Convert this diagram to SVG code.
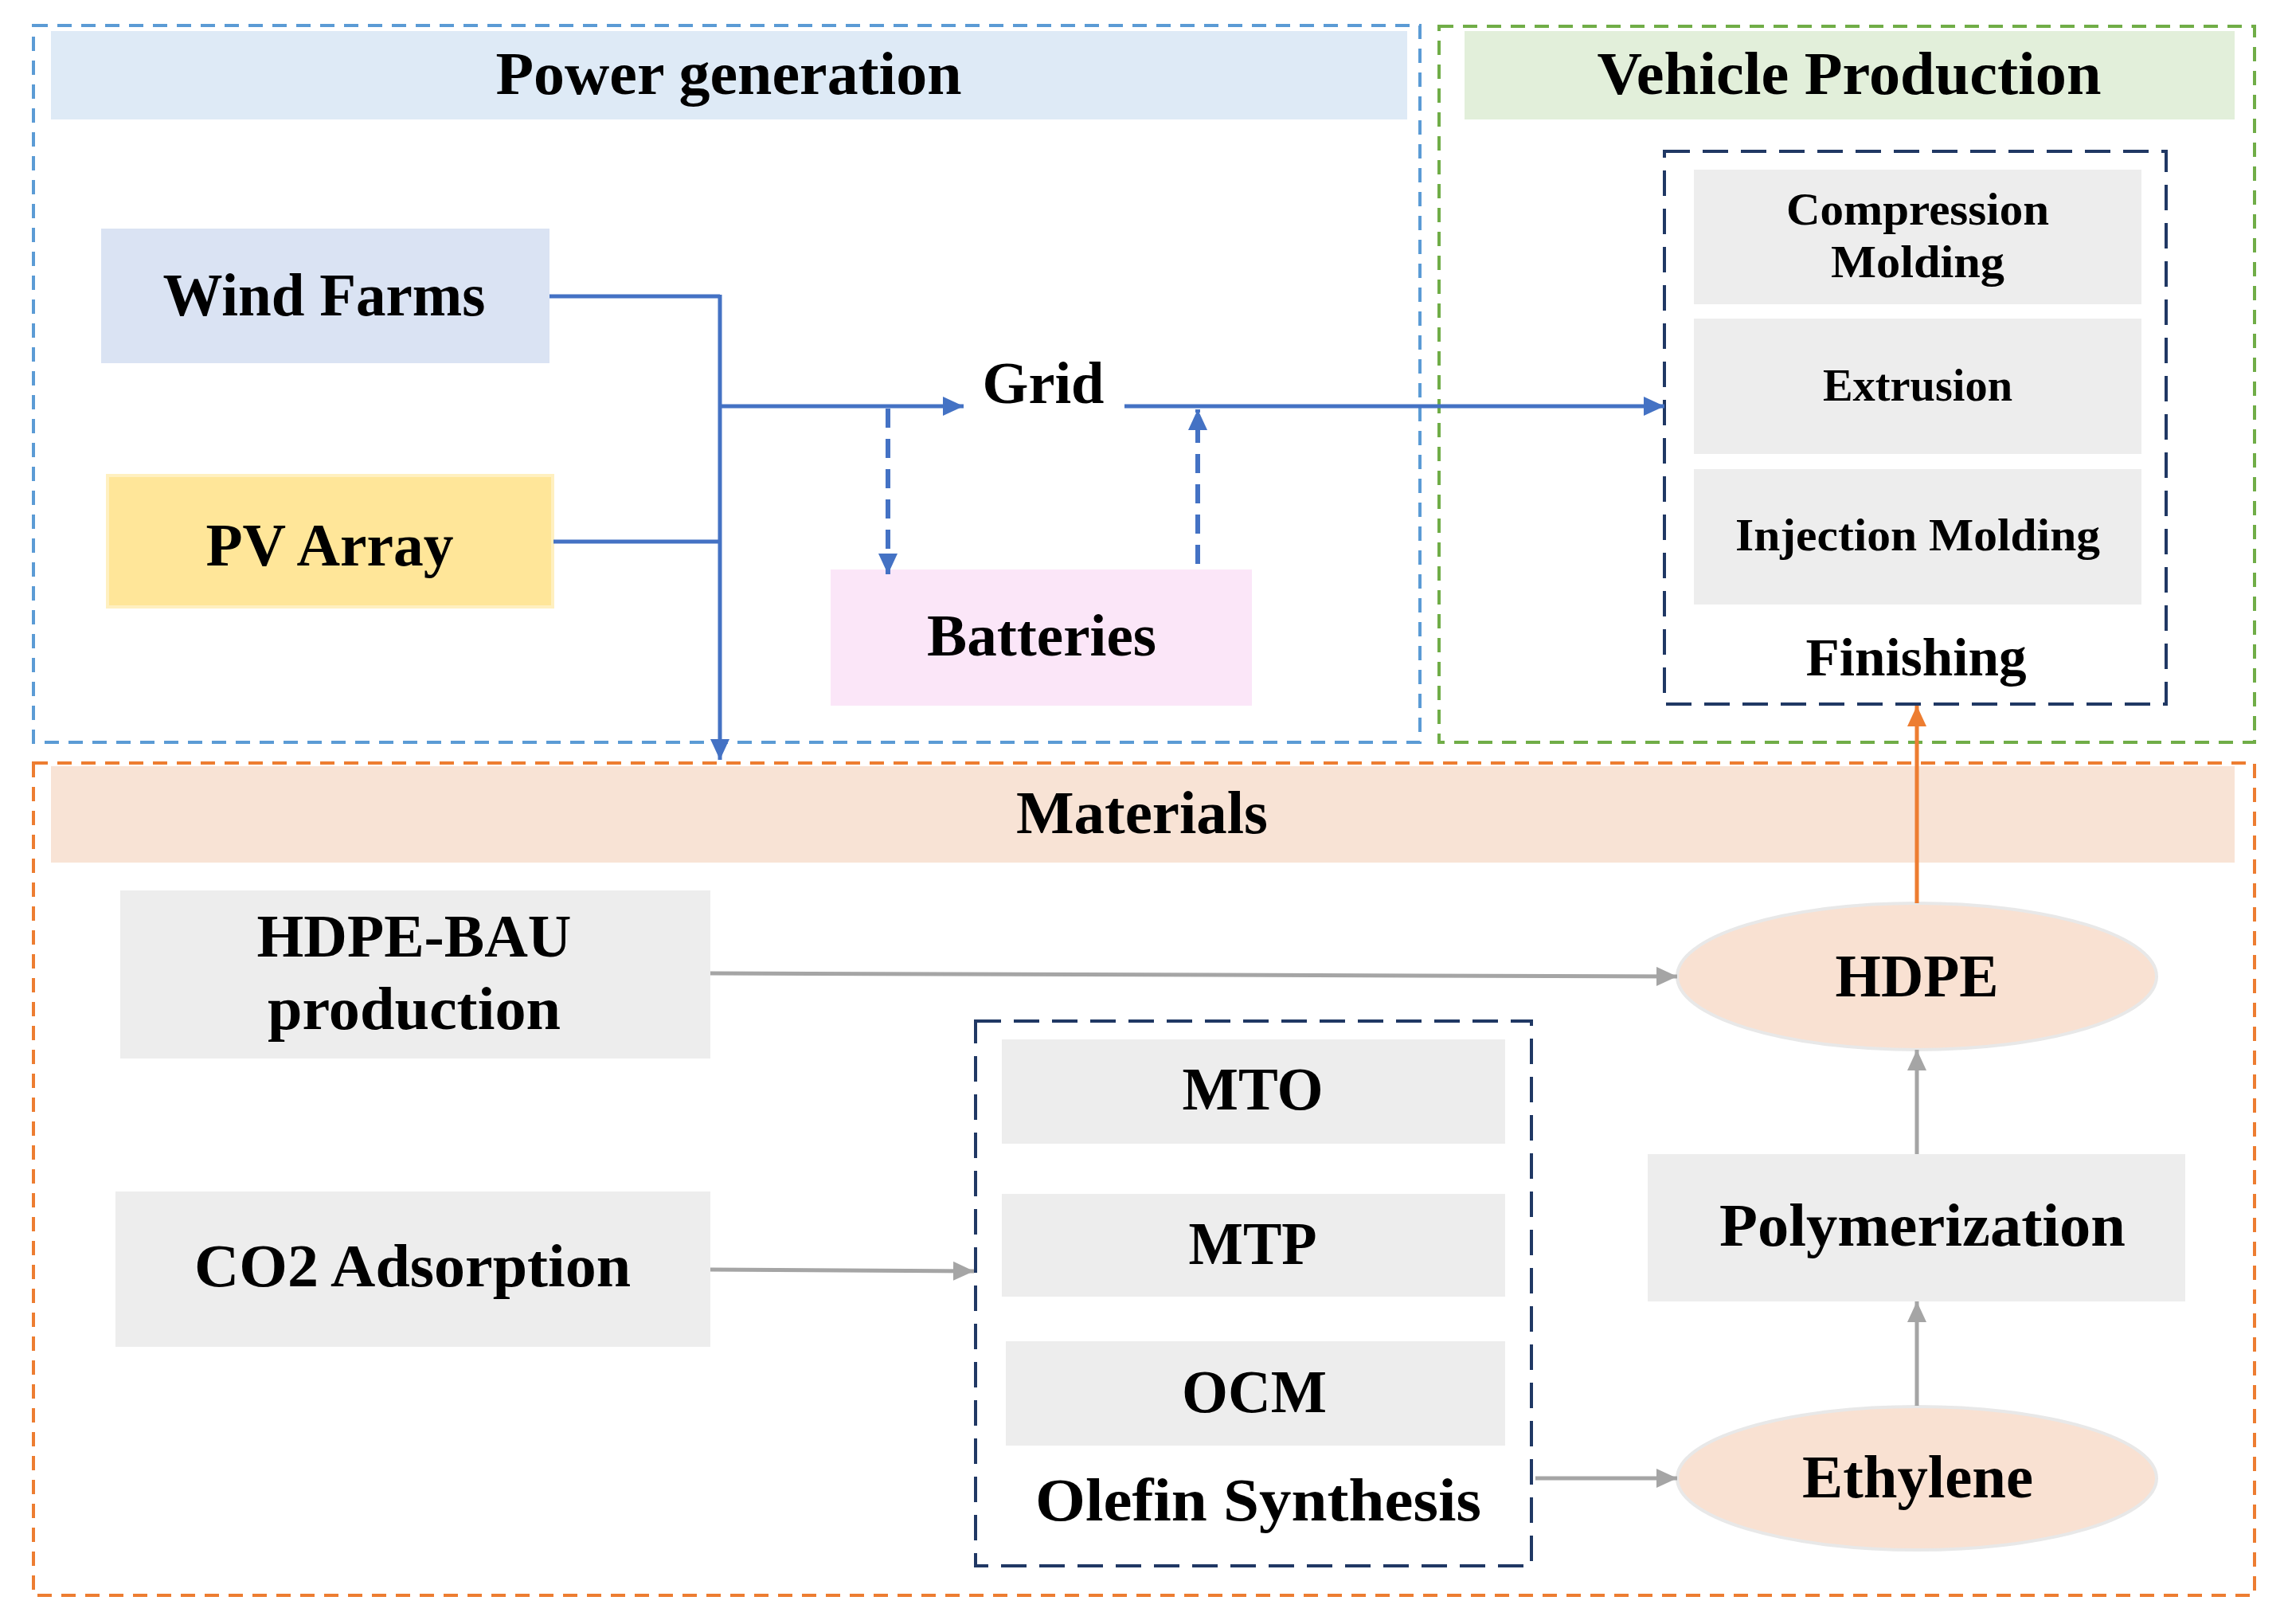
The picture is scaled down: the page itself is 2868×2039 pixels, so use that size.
<svg xmlns="http://www.w3.org/2000/svg" width="2868" height="2039" viewBox="0 0 2868 2039">
<style>
text{font-family:"Liberation Serif","Times New Roman",serif;font-weight:bold;fill:#000;text-anchor:middle}
.t76{font-size:77px}
.t72{font-size:73px}
.t57{font-size:58px}
.t66{font-size:67px}
.gbox{fill:#EDEDED}
.frame{fill:none;stroke-width:4;stroke-dasharray:18 12}
.inner{fill:none;stroke:#203864;stroke-width:4;stroke-dasharray:32 16}
.blue{fill:none;stroke:#4472C4;stroke-width:5}
.bdash{fill:none;stroke:#4472C4;stroke-width:6;stroke-dasharray:24 14}
.gray{fill:none;stroke:#A5A5A5;stroke-width:5}
.orange{fill:none;stroke:#ED7D31;stroke-width:5}
.ell{fill:#F9E1D2;stroke:#E8E8E8;stroke-width:4}
</style>
<defs>
<marker id="ab" markerUnits="userSpaceOnUse" markerWidth="26" markerHeight="24" refX="26" refY="12" orient="auto"><path d="M0,0 L26,12 L0,24 z" fill="#4472C4"/></marker>
<marker id="ag" markerUnits="userSpaceOnUse" markerWidth="26" markerHeight="24" refX="26" refY="12" orient="auto"><path d="M0,0 L26,12 L0,24 z" fill="#A5A5A5"/></marker>
<marker id="ao" markerUnits="userSpaceOnUse" markerWidth="26" markerHeight="24" refX="26" refY="12" orient="auto"><path d="M0,0 L26,12 L0,24 z" fill="#ED7D31"/></marker>
</defs>
<rect width="2868" height="2039" fill="#fff"/>

<g id="power-generation">
<rect x="42" y="32" width="1741" height="900" class="frame" stroke="#5B9BD5"/>
<rect x="64" y="39" width="1703" height="111" fill="#DEEAF6"/>
<text x="915" y="118" class="t76" textLength="585" lengthAdjust="spacingAndGlyphs">Power generation</text>
</g>

<g id="vehicle-production">
<rect x="1807" y="33" width="1024" height="899" class="frame" stroke="#70AD47"/>
<rect x="1839" y="39" width="967" height="111" fill="#E2EFDA"/>
<text x="2322" y="118" class="t76" textLength="633" lengthAdjust="spacingAndGlyphs">Vehicle Production</text>
</g>

<g id="materials">
<rect x="42" y="958" width="2789" height="1045" class="frame" stroke="#ED7D31"/>
<rect x="64" y="962" width="2742" height="121" fill="#F8E3D5"/>
<text x="1434" y="1046" class="t76" textLength="316" lengthAdjust="spacingAndGlyphs">Materials</text>
</g>

<g id="wind-farms">
<rect x="127" y="287" width="563" height="169" fill="#DAE3F3"/>
<text x="407" y="396" class="t76" textLength="405" lengthAdjust="spacingAndGlyphs">Wind Farms</text>
</g>

<g id="pv-array">
<rect x="135" y="597" width="559" height="165" fill="#FFE699" stroke="#FFF0C0" stroke-width="4"/>
<text x="414" y="710" class="t76" textLength="311" lengthAdjust="spacingAndGlyphs">PV Array</text>
</g>

<g id="grid">
<text x="1310" y="506" class="t72" textLength="153" lengthAdjust="spacingAndGlyphs">Grid</text>
</g>

<g id="batteries">
<rect x="1043" y="715" width="529" height="171" fill="#FBE6F8"/>
<text x="1308" y="823" class="t72" textLength="288" lengthAdjust="spacingAndGlyphs">Batteries</text>
</g>

<g id="vehicle-processes">
<rect x="2090" y="190" width="630" height="694" class="inner"/>
<rect x="2127" y="213" width="562" height="169" class="gbox"/>
<text x="2408" y="282" class="t57" textLength="330" lengthAdjust="spacingAndGlyphs">Compression</text>
<text x="2408" y="348" class="t57" textLength="218" lengthAdjust="spacingAndGlyphs">Molding</text>
<rect x="2127" y="400" width="562" height="170" class="gbox"/>
<text x="2408" y="503" class="t57" textLength="238" lengthAdjust="spacingAndGlyphs">Extrusion</text>
<rect x="2127" y="589" width="562" height="170" class="gbox"/>
<text x="2408" y="691" class="t57" textLength="458" lengthAdjust="spacingAndGlyphs">Injection Molding</text>
<text x="2406" y="848" class="t66" textLength="277" lengthAdjust="spacingAndGlyphs">Finishing</text>
</g>

<g id="hdpe-bau">
<rect x="151" y="1118" width="741" height="211" class="gbox"/>
<text x="520" y="1201" class="t76" textLength="395" lengthAdjust="spacingAndGlyphs">HDPE-BAU</text>
<text x="520" y="1292" class="t76" textLength="368" lengthAdjust="spacingAndGlyphs">production</text>
</g>

<g id="co2-adsorption">
<rect x="145" y="1496" width="747" height="195" class="gbox"/>
<text x="518" y="1615" class="t76" textLength="548" lengthAdjust="spacingAndGlyphs">CO2 Adsorption</text>
</g>

<g id="olefin-synthesis">
<rect x="1225" y="1282" width="698" height="684" class="inner"/>
<rect x="1258" y="1305" width="632" height="131" class="gbox"/>
<text x="1573" y="1393" class="t76" textLength="177" lengthAdjust="spacingAndGlyphs">MTO</text>
<rect x="1258" y="1499" width="632" height="129" class="gbox"/>
<text x="1573" y="1587" class="t76" textLength="161" lengthAdjust="spacingAndGlyphs">MTP</text>
<rect x="1263" y="1684" width="627" height="131" class="gbox"/>
<text x="1575" y="1773" class="t76" textLength="182" lengthAdjust="spacingAndGlyphs">OCM</text>
<text x="1580" y="1909" class="t76" textLength="560" lengthAdjust="spacingAndGlyphs">Olefin Synthesis</text>
</g>

<g id="hdpe">
<ellipse cx="2407" cy="1226" rx="301" ry="92" class="ell"/>
<text x="2407" y="1251" class="t76" textLength="205" lengthAdjust="spacingAndGlyphs">HDPE</text>
</g>

<g id="polymerization">
<rect x="2069" y="1449" width="675" height="185" class="gbox"/>
<text x="2414" y="1564" class="t76" textLength="510" lengthAdjust="spacingAndGlyphs">Polymerization</text>
</g>

<g id="ethylene">
<ellipse cx="2407" cy="1856" rx="301" ry="90" class="ell"/>
<text x="2408" y="1880" class="t76" textLength="290" lengthAdjust="spacingAndGlyphs">Ethylene</text>
</g>

<g id="connectors">
<polyline points="690,372 904,372" class="blue"/>
<polyline points="695,680 904,680" class="blue"/>
<line x1="904" y1="370" x2="904" y2="954" class="blue" marker-end="url(#ab)"/>
<line x1="904" y1="510" x2="1210" y2="510" class="blue" marker-end="url(#ab)"/>
<line x1="1412" y1="510" x2="2090" y2="510" class="blue" marker-end="url(#ab)"/>
<line x1="1115" y1="513" x2="1115" y2="721" class="bdash" marker-end="url(#ab)"/>
<line x1="1504" y1="708" x2="1504" y2="514" class="bdash" marker-end="url(#ab)"/>
<line x1="892" y1="1222" x2="2106" y2="1226" class="gray" marker-end="url(#ag)"/>
<line x1="892" y1="1594" x2="1223" y2="1596" class="gray" marker-end="url(#ag)"/>
<line x1="1928" y1="1856" x2="2106" y2="1856" class="gray" marker-end="url(#ag)"/>
<line x1="2407" y1="1765" x2="2407" y2="1634" class="gray" marker-end="url(#ag)"/>
<line x1="2407" y1="1449" x2="2407" y2="1318" class="gray" marker-end="url(#ag)"/>
<line x1="2407" y1="1134" x2="2407" y2="886" class="orange" marker-end="url(#ao)"/>
</g>
</svg>
